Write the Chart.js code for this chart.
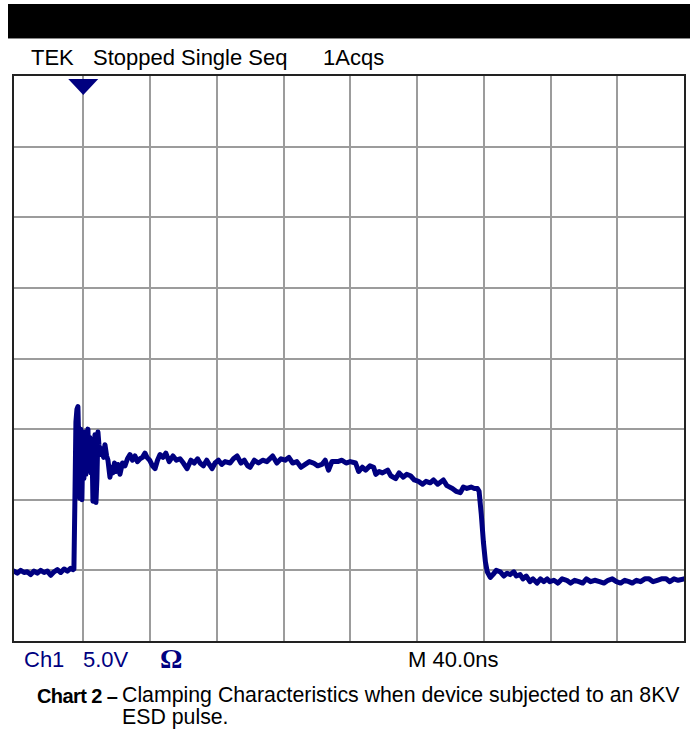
<!DOCTYPE html>
<html>
<head>
<meta charset="utf-8">
<script src="https://cdn.jsdelivr.net/npm/chart.js@4.4.1/dist/chart.umd.min.js"></script>
<style>
  body { margin: 0; background: #fff; width: 690px; height: 729px; position: relative; overflow: hidden; font-family: "Liberation Sans", Arial, sans-serif; }
  .abs { position: absolute; white-space: pre; line-height: 1; }
  #bar { position: absolute; left: 8px; top: 4px; width: 682px; height: 34px; background: #000; border-bottom: 1px solid #888; }
  #plot { position: absolute; left: 12px; top: 74px; width: 670px; height: 565px; border: 2px solid #222; }
  .navy { color: #000080; }
</style>
</head>
<body>
<div id="bar"></div>
<div class="abs" style="left:31px; top:47px; font-size:22px;">TEK</div>
<div class="abs" style="left:93px; top:47px; font-size:22px;">Stopped Single Seq</div>
<div class="abs" style="left:323px; top:47px; font-size:22px;">1Acqs</div>

<div id="plot"><canvas id="chart1"></canvas></div>

<div class="abs navy" style="left:24px; top:649px; font-size:22px;">Ch1</div>
<div class="abs navy" style="left:83px; top:649px; font-size:22px;">5.0V</div>
<div class="abs navy" style="left:160px; top:645px; font-size:28px; font-family:'Liberation Serif', serif; font-weight:bold;">Ω</div>
<div class="abs" style="left:408px; top:649px; font-size:22px;">M 40.0ns</div>

<div class="abs" style="left:37px; top:686px; font-size:20px; letter-spacing:-0.6px;"><b>Chart 2 –</b></div>
<div class="abs" style="left:122px; top:685px; font-size:21.3px;">Clamping Characteristics when device subjected to an 8KV</div>
<div class="abs" style="left:122px; top:707px; font-size:21.3px;">ESD pulse.</div>

<script>
// time base 40 ns/div, vertical 5 V/div
const xGridTicks = [40, 80, 120, 160, 200, 240, 280, 320, 360];
const yGridTicks = [0, 5, 10, 15, 20, 25, 30];
const triggerTime = 40;

const times = [
  -1.5, 0.5, 2.5, 4.5, 6.5, 8.5, 10.5, 12.5, 14.5, 16.5, 18.5, 20.5, 22.5, 24.5, 26.5, 28.5, 30.5, 32.5, 33.8,
  34.4, 35.0, 35.6, 36.2, 36.8, 37.4, 38.0, 38.6, 39.2, 39.8, 40.4, 41.0, 41.6, 42.2, 42.8, 43.4, 44.0, 44.6,
  45.2, 45.8, 46.4, 47.0, 47.6, 48.2, 48.8, 49.4, 50.0, 51.2, 52.2, 53.0, 54.0, 54.8, 56.0, 57.0, 57.8, 58.7,
  59.6, 60.8, 62.0, 63.5, 65.0, 66.5, 68.0, 69.5, 71.0, 72.5, 74.0, 75.5, 77.0, 78.2, 79.8, 81.5, 83.0, 84.5,
  86.0, 87.8, 89.5, 91.5, 93.8, 95.8, 98.0, 100.0, 102.2, 104.5, 106.5, 108.5, 110.0, 112.0, 114.0, 115.5,
  117.2, 119.0, 121.0, 123.0, 125.0, 128.0, 130.0, 132.2, 134.5, 136.5, 138.5, 140.0, 142.5, 145.0, 147.5,
  150.0, 153.5, 156.0, 158.5, 161.0, 163.2, 165.5, 168.0, 170.5, 173.0, 175.5, 178.0, 180.5, 183.0, 185.0,
  187.0, 189.0, 192.5, 195.0, 197.5, 200.0, 203.2, 205.0, 207.2, 209.2, 211.8, 214.0, 215.3, 217.3, 219.3,
  222.4, 224.3, 227.2, 229.3, 231.8, 233.8, 236.1, 238.4, 240.9, 243.3, 245.4, 247.9, 249.9, 252.4, 255.8,
  257.9, 261.2, 263.4, 266.0, 267.8, 269.9, 272.4, 274.4, 276.2, 277.2, 278.5, 279.8, 281.0, 282.1, 283.9,
  285.5, 287.5, 289.9, 292.0, 294.0, 295.8, 298.0, 299.5, 301.8, 303.5, 305.5, 307.7, 309.5, 311.9, 314.0,
  316.0, 318.0, 319.6, 322.0, 324.5, 327.0, 329.7, 332.0, 334.5, 337.0, 339.3, 341.5, 344.0, 346.5, 349.4,
  352.0, 354.5, 357.0, 359.5, 362.0, 364.5, 367.0, 369.0, 371.5, 374.0, 376.5, 379.1, 381.5, 384.0, 386.5,
  389.3, 391.5, 394.0, 396.5, 400.0
];
const volts = [
  -0.05, -0.2, 0.0, -0.15, -0.1, -0.3, -0.05, -0.2, 0.0, -0.15, -0.05, -0.35, -0.1, 0.05, -0.15, 0.1, -0.05, 0.15, 0.05,
  0.1, 5.0, 10.5, 11.4, 11.6, 8.5, 5.1, 10.0, 5.0, 9.2, 6.5, 9.8, 6.8, 9.3, 10.0, 7.2, 9.4, 6.9,
  9.0, 4.9, 7.5, 9.6, 4.8, 6.5, 9.8, 8.9, 8.2, 8.6, 8.0, 8.9, 8.1, 7.8, 6.6, 7.3, 6.9, 7.6,
  7.0, 7.5, 6.8, 7.6, 7.4, 7.9, 8.2, 7.8, 8.1, 7.7, 7.9, 8.0, 8.3, 8.0, 7.8, 7.4, 7.2, 7.8,
  8.2, 8.0, 8.3, 7.7, 8.1, 7.8, 7.9, 7.6, 7.2, 7.8, 7.6, 7.9, 7.6, 7.4, 7.8, 7.5,
  7.2, 7.6, 7.8, 7.5, 7.7, 7.6, 7.9, 8.1, 7.6, 7.8, 7.4, 7.3, 7.8, 7.6, 7.8,
  7.7, 8.1, 7.6, 7.9, 7.8, 8.0, 7.6, 7.7, 7.3, 7.5, 7.7, 7.6, 7.4, 7.5, 7.8,
  7.1, 7.7, 7.7, 7.8, 7.6, 7.7, 7.6, 7.0, 7.3, 7.1, 7.4, 7.3, 6.8, 7.0, 6.9,
  7.1, 6.7, 6.5, 6.9, 6.6, 6.8, 6.7, 6.4, 6.3, 6.1, 6.3, 6.2, 6.4, 6.1, 6.4,
  6.0, 5.8, 5.6, 5.5, 5.9, 5.8, 5.9, 5.8, 5.8, 5.6, 4.0, 2.0, 0.6, -0.1, -0.5,
  -0.3, 0.0, -0.1, -0.4, -0.2, -0.3, -0.1, -0.4, -0.3, -0.6, -0.4, -0.8, -0.6, -0.9, -0.6,
  -0.8, -0.6, -0.8, -0.7, -0.9, -0.6, -0.7, -0.9, -0.7, -0.8, -0.9, -0.6, -0.8, -0.7, -0.8,
  -0.9, -0.7, -0.6, -0.8, -0.9, -0.7, -0.8, -0.9, -0.7, -0.8, -0.6, -0.6, -0.8, -0.7, -0.6,
  -0.6, -0.8, -0.6, -0.7, -0.6
];

const traceColor = '#000080';

// little down-pointing triangle at the trigger position
const triggerMarker = {
    id: 'triggerMarker',
    afterDatasetsDraw(chart) {
        const ctx = chart.ctx;
        const x = chart.scales.x.getPixelForValue(triggerTime);
        const top = chart.chartArea.top;
        ctx.save();
        ctx.fillStyle = traceColor;
        ctx.beginPath();
        ctx.moveTo(x - 15, top + 3);
        ctx.lineTo(x + 15, top + 3);
        ctx.lineTo(x, top + 19);
        ctx.closePath();
        ctx.fill();
        ctx.restore();
    }
};

function gridScale(min, max, ticks) {
    return {
        type: 'linear',
        min: min,
        max: max,
        afterBuildTicks: function(scale) {
            scale.ticks = ticks.map(v => ({ value: v }));
        },
        ticks: { display: false },
        grid: { color: '#9c9c9c', lineWidth: 2, drawTicks: false },
        border: { display: false }
    };
}

let chart1 = new Chart(document.getElementById('chart1'), {
    type: 'line',
    data: {
        datasets: [{
            data: times.map((t, i) => ({ x: t, y: volts[i] })),
            borderColor: traceColor,
            borderWidth: 5,
            borderJoinStyle: 'round',
            borderCapStyle: 'round',
            pointRadius: 0,
            tension: 0,
            fill: false
        }]
    },
    options: {
        responsive: true,
        maintainAspectRatio: false,
        animation: false,
        layout: { padding: 0 },
        plugins: {
            legend: { display: false },
            tooltip: { enabled: false }
        },
        scales: {
            x: gridScale(-1.5, 400, xGridTicks),
            y: gridScale(-5, 35, yGridTicks)
        }
    },
    plugins: [triggerMarker]
});
</script>
</body>
</html>
